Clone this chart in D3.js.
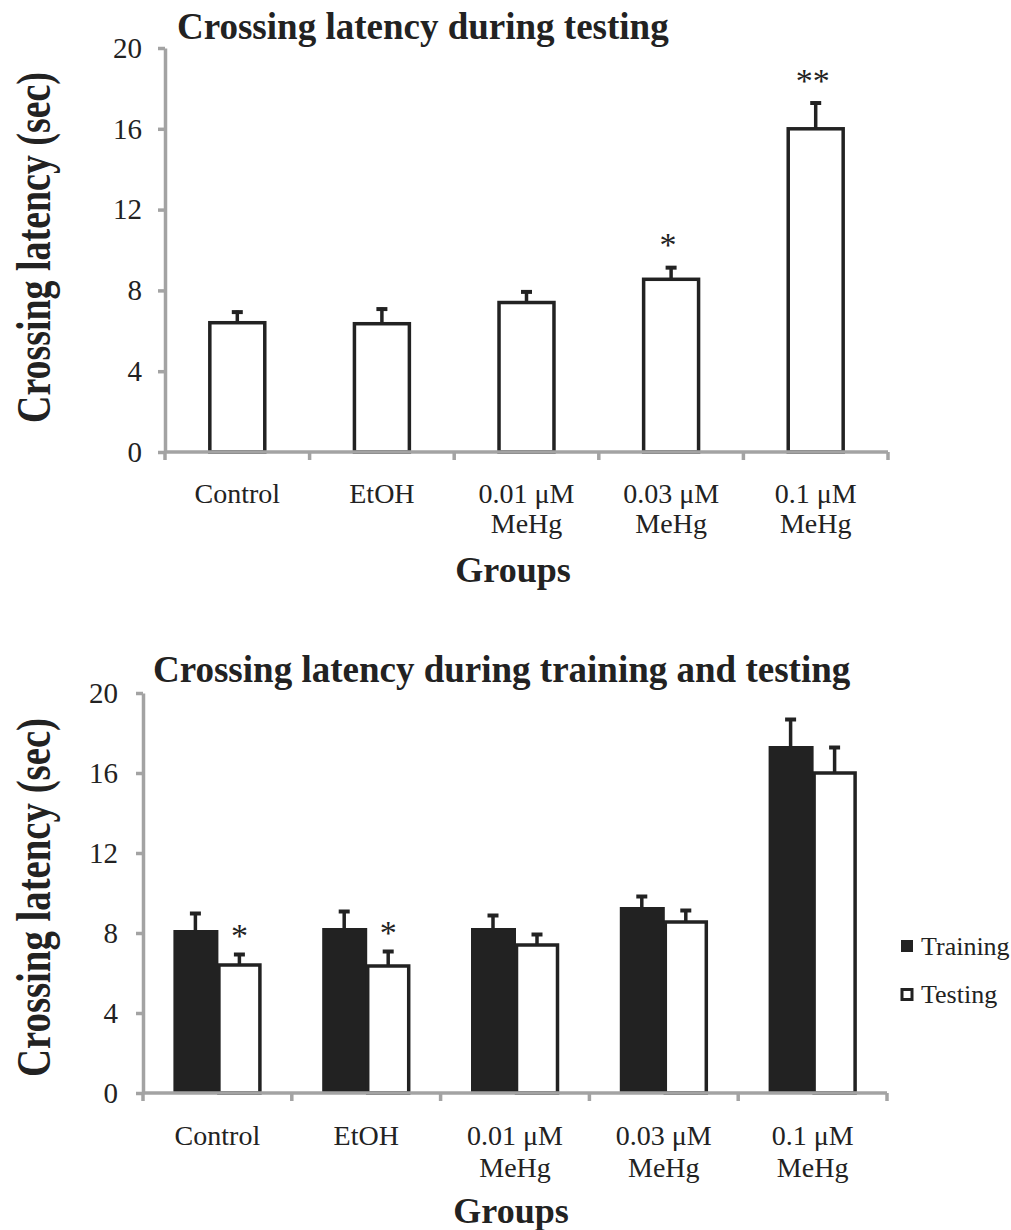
<!DOCTYPE html>
<html>
<head>
<meta charset="utf-8">
<script src="https://cdn.jsdelivr.net/npm/d3@7"></script>
<style>
  html, body { margin: 0; padding: 0; background: #fff; }
  svg { display: block; }
  text { font-family: "Liberation Serif", "Times New Roman", serif; fill: #222; }
</style>
</head>
<body>
<svg id="chart" width="1011" height="1230"></svg>
<script>
// ---- data ----
const categories = ["Control", "EtOH", "0.01 μM MeHg", "0.03 μM MeHg", "0.1 μM MeHg"];
const categoryLabels = [["Control"], ["EtOH"], ["0.01 μM", "MeHg"], ["0.03 μM", "MeHg"], ["0.1 μM", "MeHg"]];
const yTicks = [0, 4, 8, 12, 16, 20];
const series = ["Training", "Testing"];

const testingMean = [6.4, 6.35, 7.4, 8.55, 16.0];
const testingSem  = [0.6, 0.8, 0.6, 0.65, 1.35];
const trainingMean = [8.15, 8.25, 8.25, 9.3, 17.35];
const trainingSem  = [0.9, 0.9, 0.7, 0.6, 1.4];

const topSignif = ["", "", "", "*", "**"];
const bottomTestingSignif = ["*", "*", "", "", ""];

const title1 = "Crossing latency during testing";
const title2 = "Crossing latency during training and testing";
const yLabel = "Crossing latency (sec)";
const xLabel = "Groups";

// ---- style ----
const axisColor = "#a3a3a3";
const barColor = "#222";

const svg = d3.select("#chart");

function drawAxes(g, x, y, cfg) {
  const yAxis = d3.axisLeft(y).tickValues(yTicks).tickSizeInner(7).tickSizeOuter(0).tickPadding(cfg.tickPad);
  const ya = g.append("g").attr("transform", `translate(${x.range()[0]},0)`).call(yAxis);
  ya.attr("font-family", null).attr("font-size", null);
  ya.select(".domain").attr("stroke", axisColor).attr("stroke-width", 3.5);
  ya.selectAll(".tick line").attr("stroke", axisColor).attr("stroke-width", 3.5);
  ya.selectAll(".tick text").attr("font-size", 29).attr("fill", "#222")
    .style("font-family", '"Liberation Serif", "Times New Roman", serif');

  const y0 = y(0);
  const xr = x.range();
  g.append("line").attr("x1", xr[0]).attr("x2", xr[1]).attr("y1", y0).attr("y2", y0)
    .attr("stroke", axisColor).attr("stroke-width", 3.5);
  const bounds = categories.map(c => x(c)).concat([xr[1]]);
  g.selectAll(".xtick").data(bounds).join("line").attr("class", "xtick")
    .attr("x1", d => d).attr("x2", d => d).attr("y1", y0).attr("y2", y0 + 8)
    .attr("stroke", axisColor).attr("stroke-width", 3.5);

  const lab = g.selectAll(".xlab").data(categories).join("text").attr("class", "xlab")
    .attr("text-anchor", "middle").attr("font-size", 28)
    .attr("transform", d => `translate(${x(d) + x.bandwidth() / 2},${y0 + cfg.labOff})`);
  lab.selectAll("tspan").data((d, i) => categoryLabels[i]).join("tspan")
    .attr("x", 0).attr("dy", (d, i) => i === 0 ? 0 : cfg.lineH).text(d => d);

  g.append("text").attr("text-anchor", "middle").attr("font-size", 36).attr("font-weight", "bold")
    .attr("x", cfg.groupsX).attr("y", cfg.groupsY).text(xLabel);
  g.append("text").attr("text-anchor", "middle").attr("font-size", 38).attr("font-weight", "bold")
    .attr("transform", `translate(50,${cfg.yLabY}) rotate(-90) scale(1,1.27)`)
    .attr("textLength", cfg.yLabLen).attr("lengthAdjust", "spacingAndGlyphs")
    .text(yLabel);
}

function errorBar(g, cx, yTop, yErr) {
  g.append("line").attr("x1", cx).attr("x2", cx).attr("y1", yTop).attr("y2", yErr)
    .attr("stroke", barColor).attr("stroke-width", 3.5);
  g.append("line").attr("x1", cx - 5.5).attr("x2", cx + 5.5).attr("y1", yErr + 1.5).attr("y2", yErr + 1.5)
    .attr("stroke", barColor).attr("stroke-width", 4);
}

// ================= Top chart =================
{
  const g = svg.append("g");
  const x = d3.scaleBand().domain(categories).range([165, 888]).padding(0);
  const y = d3.scaleLinear().domain([0, 20]).range([452, 48]);
  const bw = x.bandwidth();
  const w = bw * 0.38;

  categories.forEach((c, i) => {
    const cx = x(c) + bw / 2;
    const yT = y(testingMean[i]);
    const yE = y(testingMean[i] + testingSem[i]);
    errorBar(g, cx, yT, yE);
    g.append("rect").attr("x", cx - w / 2).attr("y", yT).attr("width", w).attr("height", y(0) - yT)
      .attr("fill", "#fff").attr("stroke", barColor).attr("stroke-width", 3.5);
    if (topSignif[i]) {
      g.append("text").attr("text-anchor", "middle").attr("font-size", 34)
        .attr("x", cx - 3).attr("y", yE - 10).text(topSignif[i]);
    }
  });

  drawAxes(g, x, y, { tickPad: 16, labOff: 51, lineH: 30, groupsX: 513, groupsY: 582, yLabY: 247.5, yLabLen: 351 });

  g.append("text").attr("text-anchor", "start").attr("font-size", 37).attr("font-weight", "bold")
    .attr("x", 177).attr("y", 39).text(title1);
}

// ================= Bottom chart =================
{
  const g = svg.append("g");
  const x = d3.scaleBand().domain(categories).range([143, 887]).padding(0);
  const y = d3.scaleLinear().domain([0, 20]).range([1093, 693]);
  const bw = x.bandwidth();
  const groupW = 88;
  const x1 = d3.scaleBand().domain(series).range([0, groupW]).padding(0);
  const sw = x1.bandwidth();

  categories.forEach((c, i) => {
    const gx = x(c) + (bw - groupW) / 2;
    const txc = gx + x1("Training") + sw / 2;
    const yTr = y(trainingMean[i]);
    const yTrE = y(trainingMean[i] + trainingSem[i]);
    errorBar(g, txc, yTr, yTrE);
    g.append("rect").attr("x", gx + x1("Training")).attr("y", yTr).attr("width", sw + 1)
      .attr("height", y(0) - yTr).attr("fill", barColor);
    const sxc = gx + x1("Testing") + sw / 2;
    const yTe = y(testingMean[i]);
    const yTeE = y(testingMean[i] + testingSem[i]);
    errorBar(g, sxc, yTe, yTeE);
    g.append("rect").attr("x", gx + x1("Testing") + 1.5).attr("y", yTe).attr("width", sw - 3)
      .attr("height", y(0) - yTe).attr("fill", "#fff").attr("stroke", barColor).attr("stroke-width", 3.5);
    if (bottomTestingSignif[i]) {
      g.append("text").attr("text-anchor", "middle").attr("font-size", 34)
        .attr("x", sxc).attr("y", yTeE - 6).text(bottomTestingSignif[i]);
    }
  });

  drawAxes(g, x, y, { tickPad: 18, labOff: 52, lineH: 32, groupsX: 511, groupsY: 1223, yLabY: 897.5, yLabLen: 359 });

  g.append("text").attr("text-anchor", "start").attr("font-size", 37).attr("font-weight", "bold")
    .attr("x", 153).attr("y", 682).text(title2);

  const leg = g.append("g");
  leg.append("rect").attr("x", 901).attr("y", 940).attr("width", 12).attr("height", 12).attr("fill", barColor);
  leg.append("text").attr("x", 921).attr("y", 955).attr("font-size", 26).text(series[0]);
  leg.append("rect").attr("x", 902).attr("y", 989.5).attr("width", 10).attr("height", 10)
    .attr("fill", "#fff").attr("stroke", barColor).attr("stroke-width", 3);
  leg.append("text").attr("x", 921).attr("y", 1003).attr("font-size", 26).text(series[1]);
}
</script>
</body>
</html>
